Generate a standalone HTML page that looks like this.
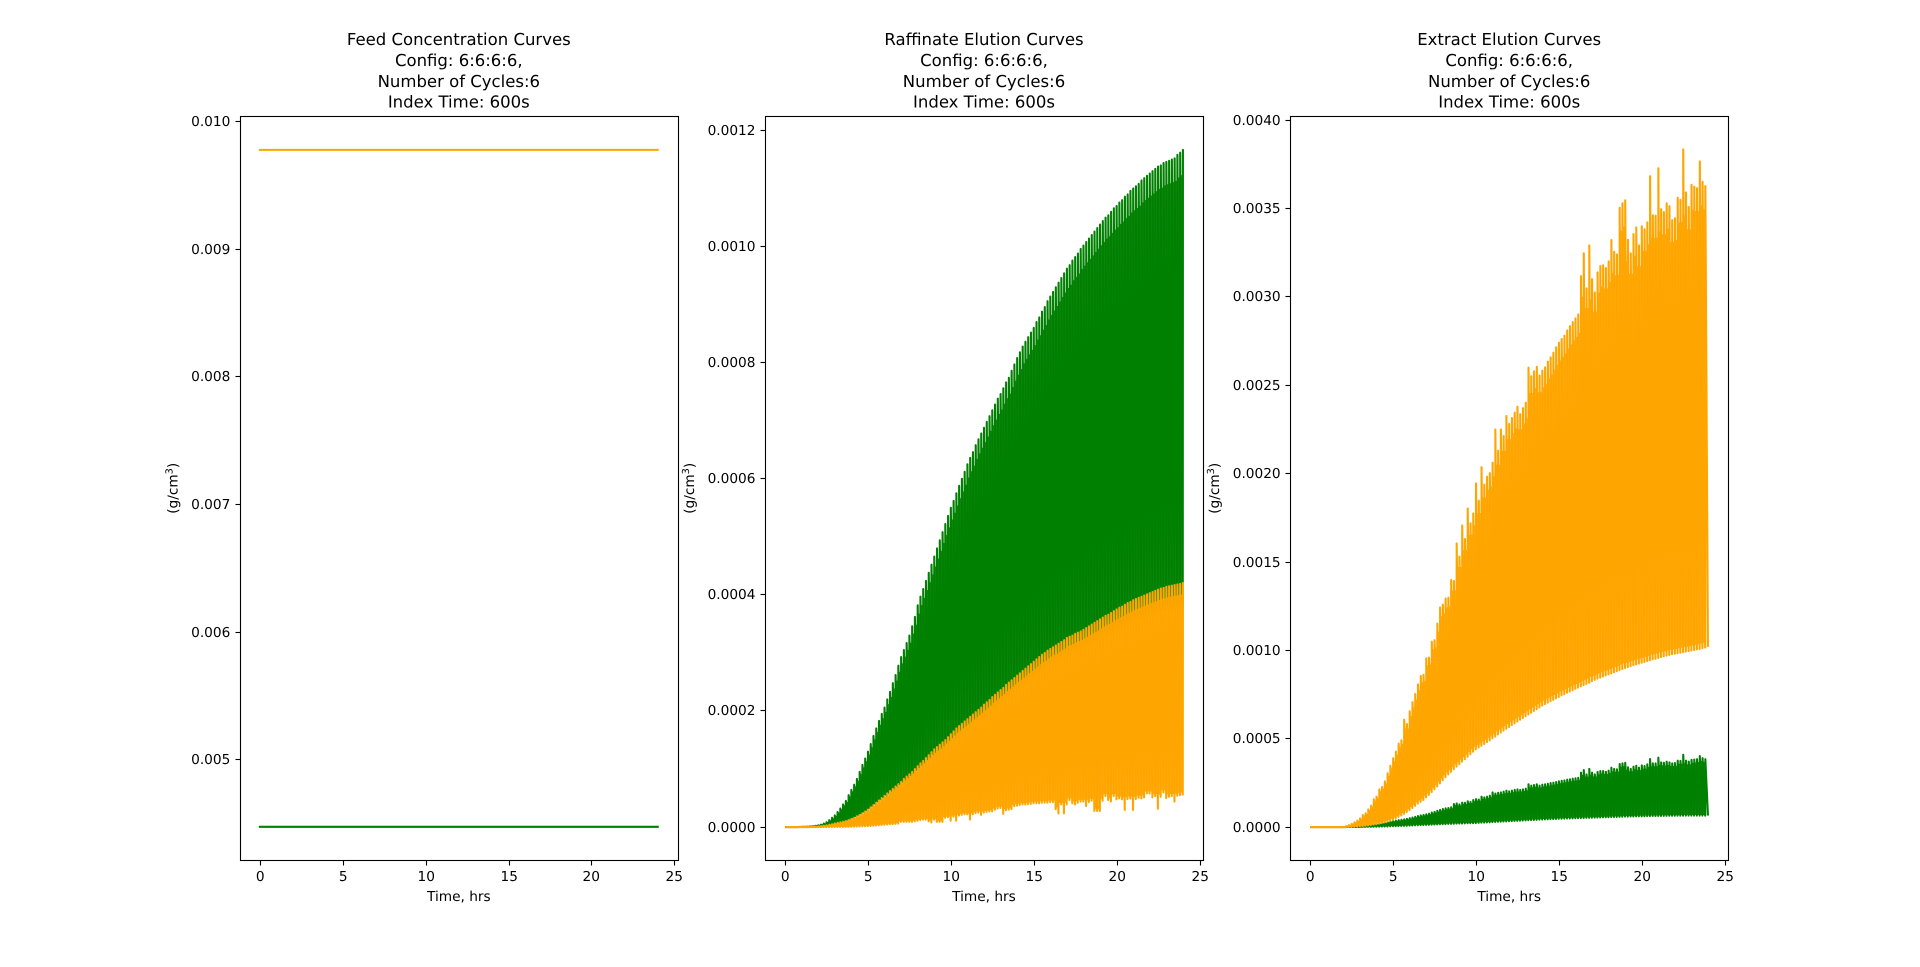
<!DOCTYPE html>
<html lang="en">
<head>
<meta charset="utf-8">
<title>Elution Curves</title>
<style>
html,body{margin:0;padding:0;background:#fff;}
body{width:1920px;height:967px;overflow:hidden;}
svg{display:block;}
text{font-family:"DejaVu Sans","Liberation Sans",sans-serif;fill:#000;text-rendering:geometricPrecision;}
.title{font-size:16.5px;text-anchor:middle;}
.tick{font-size:13.7px;}
.label{font-size:13.7px;text-anchor:middle;}
</style>
</head>
<body>
<svg id="figure" xmlns="http://www.w3.org/2000/svg" width="1920" height="967" viewBox="0 0 1920 967">
  <rect x="0" y="0" width="1920" height="967" fill="#fff"/>
  <g class="title">
    <text class="title" x="458.8" y="44.9">Feed Concentration Curves</text>
    <text class="title" x="458.8" y="65.9">Config: 6:6:6:6,</text>
    <text class="title" x="458.8" y="86.8">Number of Cycles:6</text>
    <text class="title" x="458.8" y="107.7">Index Time: 600s</text>
  </g>
  <g class="title">
    <text class="title" x="984" y="44.9">Raffinate Elution Curves</text>
    <text class="title" x="984" y="65.9">Config: 6:6:6:6,</text>
    <text class="title" x="984" y="86.8">Number of Cycles:6</text>
    <text class="title" x="984" y="107.7">Index Time: 600s</text>
  </g>
  <g class="title">
    <text class="title" x="1509.2" y="44.9">Extract Elution Curves</text>
    <text class="title" x="1509.2" y="65.9">Config: 6:6:6:6,</text>
    <text class="title" x="1509.2" y="86.8">Number of Cycles:6</text>
    <text class="title" x="1509.2" y="107.7">Index Time: 600s</text>
  </g>
  <g id="plots"></g>
</svg>
<script>
// Series values are expressed in units of 1e-4 g/cm3, one entry per 600 s index step.
const SERIES_UNIT = 1e-4;
const STEPS_PER_HOUR = 6;

const xTickLabels = ["0", "5", "10", "15", "20", "25"];
const feedYTickLabels = ["0.005", "0.006", "0.007", "0.008", "0.009", "0.010"];
const raffinateYTickLabels = ["0.0000", "0.0002", "0.0004", "0.0006", "0.0008", "0.0010", "0.0012"];
const extractYTickLabels = ["0.0000", "0.0005", "0.0010", "0.0015", "0.0020", "0.0025", "0.0030", "0.0035", "0.0040"];

const feedYLimits = [42.10, 100.43];
const raffinateYLimits = [-0.578, 12.25];
const extractYLimits = [-1.90, 40.24];

const feedHours = [0, 24];
const feedOrange = [97.78, 97.78];
const feedGreen = [44.75, 44.75];

const raffinateGreenHigh = [
0,0,0,0,0,.002,.004,.006,.008,.012,
.016,.022,.030,.042,.060,.085,.12,.16,.20,.26,
.32,.39,.45,.55,.64,.73,.83,.95,1.07,1.18,
1.30,1.43,1.57,1.70,1.83,1.95,2.06,2.20,2.33,2.48,
2.62,2.78,2.93,3.05,3.17,3.30,3.46,3.62,3.82,3.97,
4.10,4.24,4.38,4.52,4.66,4.80,4.94,5.08,5.22,5.36,
5.50,5.62,5.75,5.88,6.00,6.12,6.25,6.36,6.46,6.58,
6.68,6.78,6.88,6.98,7.08,7.18,7.28,7.38,7.46,7.56,
7.66,7.74,7.86,7.97,8.08,8.18,8.28,8.36,8.44,8.52,
8.60,8.70,8.78,8.88,8.96,9.06,9.14,9.22,9.30,9.38,
9.46,9.54,9.62,9.68,9.76,9.82,9.88,9.96,10.02,10.08,
10.14,10.20,10.26,10.32,10.38,10.44,10.50,10.54,10.60,10.66,
10.70,10.76,10.80,10.86,10.90,10.96,11.00,11.04,11.08,11.14,
11.18,11.22,11.26,11.30,11.34,11.38,11.40,11.44,11.46,11.48,
11.50,11.52,11.58,11.62,11.68];

const raffinateGreenLow = [
0,0,0,0,0,0,.001,.002,.003,.004,
.005,.007,.011,.014,.02,.027,.036,.045,.056,.065,
.074,.083,.095,.108,.126,.144,.167,.19,.216,.243,
.27,.306,.342,.378,.414,.45,.486,.522,.558,.594,
.63,.666,.702,.747,.783,.819,.855,.90,.945,.99,
1.03,1.07,1.12,1.16,1.21,1.24,1.28,1.31,1.35,1.40,
1.44,1.49,1.53,1.57,1.60,1.64,1.67,1.71,1.75,1.78,
1.82,1.85,1.90,1.94,1.97,2.02,2.05,2.09,2.12,2.16,
2.21,2.24,2.28,2.31,2.35,2.38,2.42,2.46,2.49,2.53,
2.56,2.60,2.64,2.67,2.70,2.74,2.76,2.79,2.82,2.84,
2.87,2.90,2.93,2.95,2.97,3.00,3.02,3.03,3.06,3.09,
3.11,3.14,3.17,3.20,3.22,3.25,3.28,3.29,3.32,3.35,
3.38,3.40,3.42,3.45,3.47,3.49,3.52,3.54,3.56,3.57,
3.59,3.61,3.63,3.65,3.66,3.68,3.70,3.71,3.73,3.74,
3.74,3.75,3.76,3.77,3.80];

const raffinateOrangeHigh = [
0,0,0,0,0,0,.001,.002,.003,.004,
.006,.008,.012,.016,.022,.030,.04,.05,.062,.072,
.082,.092,.105,.12,.14,.16,.185,.21,.24,.27,
.30,.34,.38,.42,.46,.50,.54,.58,.62,.66,
.70,.74,.78,.83,.87,.91,.95,1.00,1.05,1.10,
1.14,1.19,1.24,1.29,1.34,1.38,1.42,1.46,1.50,1.55,
1.60,1.65,1.70,1.74,1.78,1.82,1.86,1.90,1.94,1.98,
2.02,2.06,2.11,2.15,2.19,2.24,2.28,2.32,2.36,2.40,
2.45,2.49,2.53,2.57,2.61,2.65,2.69,2.73,2.77,2.81,
2.85,2.89,2.93,2.97,3.00,3.04,3.07,3.10,3.13,3.16,
3.19,3.22,3.26,3.28,3.30,3.33,3.35,3.37,3.40,3.43,
3.46,3.49,3.52,3.55,3.58,3.61,3.64,3.66,3.69,3.72,
3.75,3.78,3.80,3.83,3.86,3.88,3.91,3.93,3.95,3.97,
3.99,4.01,4.03,4.05,4.07,4.09,4.11,4.12,4.14,4.15,
4.16,4.17,4.18,4.19,4.22];

const raffinateOrangeLow = [
0,0,0,0,0,0,0,0,0,0,
0,0,0,0,.001,.001,.002,.002,.002,.003,
.003,.004,.004,.005,.006,.008,.010,.012,.014,.016,
.018,.020,.024,.028,.032,.036,.040,.045,.050,.050,
.055,.060,.09,.09,.09,.09,.09,.10,.11,.12,
.13,.13,.10,.08,.13,.09,.09,.09,.16,.17,
.11,.18,.11,.20,.21,.22,.22,.13,.22,.24,
.25,.21,.25,.26,.27,.27,.30,.32,.33,.23,
.29,.30,.31,.36,.37,.38,.39,.39,.395,.40,
.41,.41,.41,.42,.42,.42,.43,.43,.31,.235,
.39,.235,.39,.466,.41,.39,.42,.44,.44,.363,
.43,.455,.277,.277,.277,.455,.535,.466,.44,.535,
.477,.495,.477,.294,.483,.49,.294,.483,.505,.495,
.512,.58,.58,.512,.535,.317,.523,.598,.50,.523,
.535,.44,.54,.55,.56];

const extractGreenHigh = [
0,0,0,0,0,0,0,0,0,0,
0,0,0,.002,.005,.01,.015,.02,.03,.05,
.07,.09,.11,.13,.15,.18,.21,.24,.28,.31,
.33,.36,.39,.41,.43,.46,.50,.54,.58,.62,
.66,.69,.72,.76,.82,.86,.92,.97,1.02,1.06,
1.08,1.12,1.30,1.34,1.28,1.38,1.37,1.46,1.42,1.53,
1.58,1.56,1.72,1.68,1.72,1.78,1.96,1.90,1.94,1.96,
2.00,2.06,2.02,2.06,2.10,2.13,2.10,2.13,2.17,2.42,
2.34,2.38,2.42,2.34,2.40,2.42,2.45,2.49,2.51,2.55,
2.59,2.62,2.64,2.68,2.70,2.74,2.76,2.79,3.08,3.23,
2.98,3.29,3.08,2.98,3.12,3.17,3.17,3.13,3.19,3.36,
3.29,3.27,3.57,3.60,3.64,3.38,3.29,3.42,3.47,3.36,
3.49,3.45,3.55,3.85,3.60,3.60,3.93,3.66,3.64,3.70,
3.66,3.60,3.62,3.76,3.74,4.09,3.76,3.70,3.80,3.82,
3.84,4.02,3.90,3.84];

const extractGreenLow = [
0,0,0,0,0,0,0,0,0,0,
0,0,0,.001,.002,.003,.004,.006,.008,.01,
.012,.015,.018,.02,.024,.028,.032,.036,.04,.045,
.05,.055,.06,.066,.072,.078,.085,.09,.10,.105,
.11,.12,.125,.13,.14,.145,.15,.16,.165,.17,
.18,.185,.19,.195,.2,.205,.21,.215,.22,.225,
.23,.24,.25,.255,.265,.27,.28,.29,.30,.305,
.315,.32,.33,.34,.35,.355,.365,.37,.38,.39,
.395,.405,.41,.42,.43,.435,.44,.45,.455,.46,
.47,.475,.48,.485,.49,.495,.50,.505,.51,.515,
.52,.525,.53,.535,.54,.545,.55,.555,.56,.565,
.57,.575,.58,.585,.59,.595,.60,.60,.605,.61,
.61,.615,.62,.62,.625,.625,.63,.63,.635,.635,
.64,.64,.64,.645,.645,.645,.65,.65,.65,.65,
.65,.65,.65,.65,.65];

const extractOrangeHigh = [
0,0,0,0,0,0,0,0,.002,.003,
.004,.006,.01,.05,.11,.18,.27,.36,.49,.68,
.78,1.00,1.21,1.57,1.72,2.13,2.27,2.58,3.04,3.47,
3.89,4.27,4.72,4.91,6.08,5.83,6.55,7.07,7.53,8.07,
8.55,8.62,9.55,9.59,10.49,10.58,11.51,12.43,12.59,12.93,
12.98,13.98,13.92,16.05,15.30,17.07,16.30,18.03,17.19,17.75,
19.45,18.47,20.37,19.38,19.83,20.03,20.62,22.50,21.30,22.50,
22.13,23.26,22.81,23.15,23.45,23.79,23.37,23.71,24.02,26.00,
25.52,25.79,26.05,25.55,25.83,26.02,26.34,26.58,26.85,27.15,
27.41,27.62,27.81,28.11,28.35,28.58,28.79,29.01,31.18,32.47,
30.49,32.92,31.01,30.26,31.39,31.75,31.79,31.64,32.01,33.22,
32.56,32.41,35.05,35.30,35.47,33.24,32.47,33.56,33.94,32.92,
34.00,33.83,34.22,36.84,34.62,34.60,37.28,34.97,34.80,35.30,
35.14,34.35,34.46,35.62,35.50,38.35,35.92,35.09,36.35,36.24,
36.16,37.67,36.52,36.28];

const extractOrangeLow = [
0,0,0,0,0,0,0,0,0,0,
0,0,0,.002,.004,.008,.015,.025,.04,.055,
.07,.09,.115,.14,.17,.2,.235,.27,.32,.37,
.43,.5,.58,.66,.75,.85,.96,1.08,1.2,1.33,
1.43,1.53,1.68,1.82,1.98,2.14,2.3,2.47,2.65,2.82,
2.98,3.12,3.27,3.42,3.56,3.7,3.84,3.98,4.12,4.26,
4.4,4.5,4.6,4.7,4.8,4.9,5.02,5.12,5.24,5.35,
5.46,5.56,5.66,5.77,5.87,5.97,6.07,6.17,6.27,6.37,
6.47,6.57,6.67,6.77,6.87,6.96,7.04,7.12,7.2,7.28,
7.36,7.45,7.52,7.6,7.67,7.74,7.82,7.89,7.96,8.03,
8.1,8.17,8.26,8.33,8.4,8.46,8.52,8.58,8.64,8.7,
8.76,8.82,8.88,8.94,9.0,9.05,9.1,9.16,9.2,9.25,
9.3,9.34,9.39,9.44,9.49,9.53,9.57,9.62,9.66,9.7,
9.74,9.78,9.81,9.84,9.87,9.9,9.93,9.96,9.99,10.02,
10.05,10.08,10.12,10.16,10.2];

(function () {
  const NS = 'http://www.w3.org/2000/svg';
  const plots = document.getElementById('plots');
  const W = 1920, H = 967;
  const figLeft = 0.125 * W, figRight = 0.9 * W, figTop = 0.12 * H, figBottom = 0.89 * H;
  const wspace = 0.2;
  const axW = (figRight - figLeft) / (3 + 2 * wspace);
  const axGap = axW * wspace;
  const xMin = -1.2, xMax = 25.2;
  const GREEN = '#008000', ORANGE = '#ffa500', LINE_W = 2.083;

  function make(tag, attrs, parent) {
    const el = document.createElementNS(NS, tag);
    for (const k in attrs) el.setAttribute(k, attrs[k]);
    parent.appendChild(el);
    return el;
  }

  function drawAxes(index, key, yLabels, yLimits, drawSeries) {
    const left = figLeft + index * (axW + axGap);
    const right = left + axW;
    const g = make('g', {}, plots);
    
    

    const sx = function (hours) { return left + (hours - xMin) / (xMax - xMin) * axW; };
    const sy = function (value) {
      const u = value / SERIES_UNIT;
      return figBottom - (u - yLimits[0]) / (yLimits[1] - yLimits[0]) * (figBottom - figTop);
    };
    const su = function (u) { return sy(u * SERIES_UNIT); };

    drawSeries(g, sx, su);

    const pxL = Math.round(left) + 0.5, pxR = Math.round(right) + 0.5;
    const pxT = Math.round(figTop) + 0.5, pxB = Math.round(figBottom) - 0.5;

    xTickLabels.forEach(function (label) {
      const x = Math.round(sx(parseFloat(label))) + 0.5;
      const tick = make('line', { x1: x, x2: x, y1: pxB, y2: pxB + 5, stroke: '#000', 'stroke-width': 1.1 }, g);
      
      
      const t = make('text', { x: x - 0.3, y: 881, 'text-anchor': 'middle', class: 'tick' }, g);
      
      
      t.textContent = label;
    });

    yLabels.forEach(function (label) {
      const y = Math.floor(sy(parseFloat(label))) + 0.5;
      const tick = make('line', { x1: pxL - 5, x2: pxL, y1: y, y2: y, stroke: '#000', 'stroke-width': 1.1 }, g);
      
      
      const t = make('text', { x: left - 9.7, y: y + 4.6, 'text-anchor': 'end', class: 'tick' }, g);
      
      
      t.textContent = label;
    });

    const frame = make('rect', { x: pxL, y: pxT, width: pxR - pxL, height: pxB - pxT, fill: 'none', stroke: '#000', 'stroke-width': 1.1 }, g);
    
    

    const xl = make('text', { x: (left + right) / 2, y: 901, class: 'label' }, g);
    
    
    xl.textContent = 'Time, hrs';

    const tickTextWidth = yLabels[0].length === 5 ? 41 : 50;
    const ylX = left - 9.7 - tickTextWidth - 11.7;
    const yl = make('text', { x: 0, y: 0, class: 'label', transform: 'translate(' + ylX + ',488.3) rotate(-90)' }, g);
    
    
    yl.appendChild(document.createTextNode('(g/cm'));
    const sup = make('tspan', { dy: -5, 'font-size': '9.7px' }, yl);
    sup.textContent = '3';
    const rest = make('tspan', { dy: 5 }, yl);
    rest.textContent = ')';
  }

  function drawFlatLine(g, sx, su, values, color, name) {
    const pts = feedHours.map(function (h, i) { return sx(h).toFixed(2) + ',' + su(values[i]).toFixed(2); }).join(' ');
    const line = make('polyline', { points: pts, fill: 'none', stroke: color, 'stroke-width': LINE_W, 'stroke-linecap': 'square' }, g);
    
    
  }

  // Core band between the lows and highs: stops just short of the peaks,
  // leaving a narrow fringe of slits near the tops.
  function drawBand(g, sx, su, highs, lows, color, name) {
    const last = Math.min(highs.length, lows.length) - 1;
    const top = [], bottom = [];
    for (let k = 0; k < last; k++) {
      const x0 = sx(k / STEPS_PER_HOUR).toFixed(2);
      const x1 = sx((k + 1) / STEPS_PER_HOUR).toFixed(2);
      const peak = Math.min(highs[k], highs[k + 1]);
      const trough = Math.min(peak, Math.max(lows[k], lows[k + 1]));
      const hi = trough + 0.95 * (peak - trough);
      const lo = trough + 0.01 * (peak - trough);
      top.push(x0 + ',' + su(hi).toFixed(2), x1 + ',' + su(hi).toFixed(2));
      bottom.unshift(x1 + ',' + su(lo).toFixed(2), x0 + ',' + su(lo).toFixed(2));
    }
    const band = make('polygon', { points: top.concat(bottom).join(' '), fill: color, 'fill-opacity': 0.9, stroke: 'none' }, g);
    
    
  }

  function drawZigzag(g, sx, su, highs, lows, color, name) {
    const pts = [];
    const n = Math.max(highs.length, lows.length);
    for (let k = 0; k < n; k++) {
      const step = k / STEPS_PER_HOUR;
      if (k < lows.length) {
        const before = k === 0 ? 0 : (k - 0.06) / STEPS_PER_HOUR;
        pts.push(sx(before).toFixed(2) + ',' + su(lows[k]).toFixed(2));
      }
      if (k < highs.length) {
        pts.push(sx(step).toFixed(2) + ',' + su(highs[k]).toFixed(2));
      }
    }
    const line = make('polyline', { points: pts.join(' '), fill: 'none', stroke: color, 'stroke-width': LINE_W, 'stroke-linejoin': 'round' }, g);
    
    
  }

  drawAxes(0, 'feed', feedYTickLabels, feedYLimits, function (g, sx, su) {
    drawFlatLine(g, sx, su, feedOrange, ORANGE, 'feed-orange-line');
    drawFlatLine(g, sx, su, feedGreen, GREEN, 'feed-green-line');
  });
  drawAxes(1, 'raffinate', raffinateYTickLabels, raffinateYLimits, function (g, sx, su) {
    drawBand(g, sx, su, raffinateGreenHigh, raffinateGreenLow, GREEN, 'raffinate-green-band');
    drawZigzag(g, sx, su, raffinateGreenHigh, raffinateGreenLow, GREEN, 'raffinate-green-line');
    drawBand(g, sx, su, raffinateOrangeHigh, raffinateOrangeLow, ORANGE, 'raffinate-orange-band');
    drawZigzag(g, sx, su, raffinateOrangeHigh, raffinateOrangeLow, ORANGE, 'raffinate-orange-line');
  });
  drawAxes(2, 'extract', extractYTickLabels, extractYLimits, function (g, sx, su) {
    drawBand(g, sx, su, extractGreenHigh, extractGreenLow, GREEN, 'extract-green-band');
    drawZigzag(g, sx, su, extractGreenHigh, extractGreenLow, GREEN, 'extract-green-line');
    drawBand(g, sx, su, extractOrangeHigh, extractOrangeLow, ORANGE, 'extract-orange-band');
    drawZigzag(g, sx, su, extractOrangeHigh, extractOrangeLow, ORANGE, 'extract-orange-line');
  });
})();
</script>
</body>
</html>
